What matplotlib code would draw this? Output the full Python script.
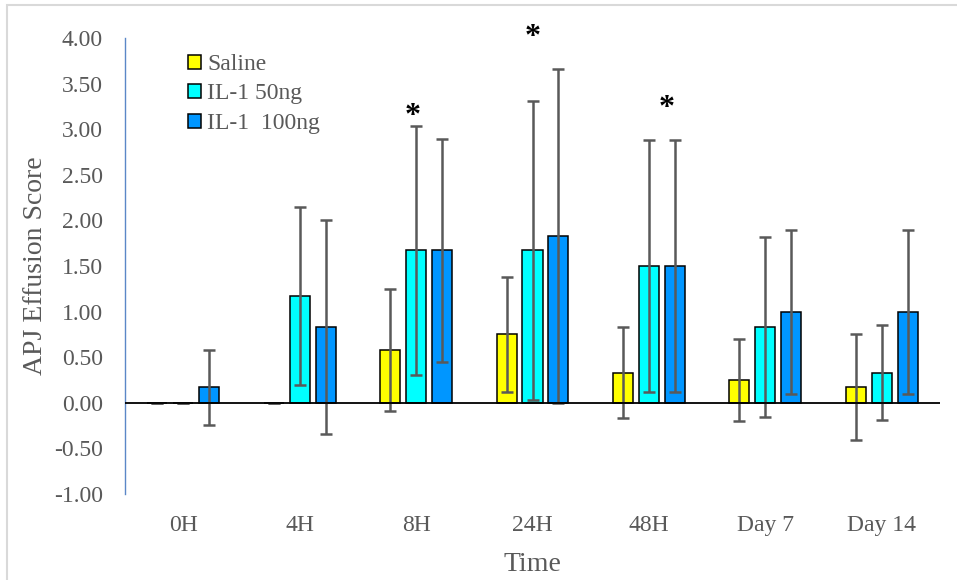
import matplotlib
matplotlib.use("Agg")
import matplotlib.pyplot as plt
import numpy as np
from matplotlib.patches import Rectangle

# data
times = ["0H", "4H", "8H", "24H", "48H", "Day 7", "Day 14"]
groups = ["Saline", "IL-1 50ng", "IL-1  100ng"]
saline = [0.00, 0.00, 0.58, 0.75, 0.33, 0.25, 0.17]
saline_err = [0.00, 0.00, 0.67, 0.63, 0.50, 0.45, 0.58]
il50 = [0.00, 1.17, 1.67, 1.67, 1.50, 0.83, 0.33]
il50_err = [0.00, 0.98, 1.37, 1.64, 1.38, 0.99, 0.52]
il100 = [0.17, 0.83, 1.67, 1.83, 1.50, 1.00, 1.00]
il100_err = [0.41, 1.17, 1.22, 1.83, 1.38, 0.90, 0.90]
# significance markers: (category index, x offset, height)
stars = [(2, -0.03, 3.14), (3, 0.0, 4.00), (4, 0.15, 3.23)]

colors = ["#FFFF00", "#00FFFF", "#0096FF"]
grey = "#595959"
plt.rcParams['font.family'] = ['Liberation Serif', 'DejaVu Serif']

fig = plt.figure(figsize=(9.57, 5.80), dpi=100)
ax = fig.add_axes([125/957, 1-494/580, 815/957, 456/580])

x = np.arange(len(times))
w = 0.172
off = 0.223
ekw = dict(ecolor=grey, elinewidth=1.8, capsize=4.3, capthick=1.8)
for i, (vals, errs) in enumerate([(saline, saline_err), (il50, il50_err), (il100, il100_err)]):
    ax.bar(x + (i-1)*off, vals, w, yerr=errs, color=colors[i], edgecolor='black',
           linewidth=1.1, label=groups[i], error_kw=ekw, zorder=2)

for ci, dx, h in stars:
    ax.text(ci + dx, h, "*", ha='center', va='center', fontsize=23, fontweight='bold',
            color='black')

ax.axhline(0, color='black', lw=1.3, zorder=3)
ax.set_xlim(-0.5, len(times)-0.5)
ax.set_ylim(-1, 4)
ax.set_yticks(np.arange(-1, 4.01, 0.5))
ax.set_yticklabels([f"{v:.2f}" for v in np.arange(-1, 4.01, 0.5)])
ax.set_xticks(x)
ax.set_xticklabels(times)
ax.tick_params(axis='y', length=0, pad=16, labelsize=17, labelcolor=grey)
ax.tick_params(axis='x', length=0, pad=15, labelsize=17, labelcolor=grey)
for s in ['top', 'right', 'bottom']:
    ax.spines[s].set_visible(False)
ax.spines['left'].set_color('#5B87C7')
ax.spines['left'].set_linewidth(1.0)

ax.set_ylabel("APJ Effusion Score", fontsize=20, color=grey)
ax.yaxis.set_label_coords(-0.095, 0.5)
ax.set_xlabel("Time", fontsize=20, color=grey)
ax.xaxis.set_label_coords(0.5, -0.128)

ax.legend(loc='upper left', bbox_to_anchor=(188/957, 1-54/580), bbox_transform=fig.transFigure,
          frameon=False, fontsize=17, handlelength=0.55, handleheight=0.55,
          handletextpad=0.25, labelspacing=0.36, borderpad=0, borderaxespad=0,
          labelcolor=grey)

fig.patches.append(Rectangle((7/957, -0.1), 1.2, 1-5/580+0.1, transform=fig.transFigure,
                             fill=False, edgecolor='#D9D9D9', lw=1.5))

fig.savefig("out.png", dpi=100)
